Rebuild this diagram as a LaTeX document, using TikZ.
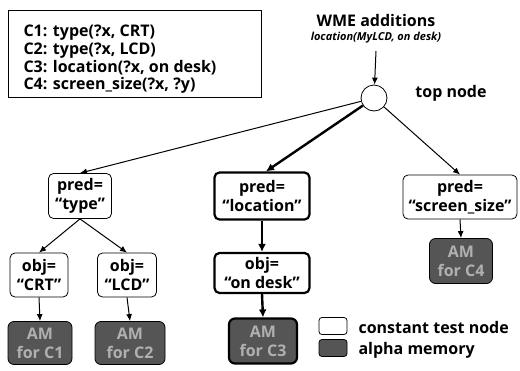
\documentclass[tikz,border=0pt]{standalone}
\usepackage{fontspec}
\setmainfont{Open Sans}
\usetikzlibrary{arrows.meta}
\definecolor{amgray}{HTML}{555555}
\definecolor{amtext}{HTML}{B0B0B0}
\begin{document}
\begin{tikzpicture}[x=1pt,y=-1pt,
  txt/.style={font=\bfseries\fontsize{16}{19}\selectfont},
  testbox/.style={draw, rounded corners=5pt, fill=white, align=center, inner sep=1pt, line width=0.8pt, txt},
  thicktest/.style={testbox, line width=2.2pt},
  ambox/.style={draw, rounded corners=6pt, fill=amgray, text=amtext, align=center, inner sep=1pt, line width=0.8pt, txt},
  thickam/.style={ambox, line width=2.2pt},
  arr/.style={-{Latex[length=7pt,width=6pt]}, line width=1pt},
  thickarr/.style={-{Latex[length=8pt,width=8pt]}, line width=2.4pt}]
\useasboundingbox (0,0) rectangle (520,370);
% conditions box
\node[draw, line width=0.8pt, minimum width=253pt, minimum height=87pt, anchor=north west, inner sep=0pt] (condbox) at (8,10) {};
\node[anchor=west, align=left, font=\bfseries\fontsize{16}{17.6}\selectfont] (conds) at (20,59.5)
  {C1: type(?x, CRT)\\C2: type(?x, LCD)\\C3: location(?x, on desk)\\C4: screen\_size(?x, ?y)};
% WME
\node[txt] (wme) at (376,20) {WME additions};
\node[font=\bfseries\itshape\fontsize{11}{12}\selectfont] (wmesub) at (376,38) {location(MyLCD, on desk)};
\node[draw, circle, minimum size=26pt, line width=0.8pt, inner sep=0pt] (top) at (374,98) {};
\node[txt] (toplbl) at (451,93) {top node};
\draw[arr] ([yshift=-4pt]wmesub.south) -- (top);
% level 1
\node[testbox, minimum width=63pt, minimum height=45pt] (ptype) at (80,196) {pred=\\“type”};
\node[thicktest, minimum width=95pt, minimum height=47pt] (ploc) at (262,196) {pred=\\“location”};
\node[testbox, minimum width=114pt, minimum height=44pt] (pscr) at (460,197) {pred=\\“screen\_size”};
% level 2
\node[testbox, minimum width=58pt, minimum height=44pt] (ocrt) at (39,275) {obj=\\“CRT”};
\node[testbox, minimum width=59pt, minimum height=44pt] (olcd) at (127,275) {obj=\\“LCD”};
\node[thicktest, minimum width=95pt, minimum height=40pt] (odesk) at (262,273) {obj=\\“on desk”};
% alpha memories
\node[ambox, minimum width=64pt, minimum height=43pt] (am1) at (40,343) {AM\\for C1};
\node[ambox, minimum width=70pt, minimum height=43pt] (am2) at (130,343) {AM\\for C2};
\node[thickam, minimum width=68pt, minimum height=45pt] (am3) at (263,341) {AM\\for C3};
\node[ambox, minimum width=63pt, minimum height=45pt] (am4) at (461,261) {AM\\for C4};
% legend
\node[draw, rounded corners=3pt, line width=0.8pt, minimum width=28pt, minimum height=17pt, inner sep=0pt] (legt) at (333,326) {};
\node[draw, rounded corners=3pt, fill=amgray, line width=0.8pt, minimum width=28pt, minimum height=17pt, inner sep=0pt] (lega) at (333,348) {};
\node[txt, anchor=west] (legtl) at (355,327) {constant test node};
\node[txt, anchor=west] (legal) at (355,350) {alpha memory};
% edges
\draw[arr] (top) -- (ptype.north);
\draw[thickarr] (top) -- ([xshift=4pt]ploc.north);
\draw[arr] (top) -- (pscr.north);
\draw[arr] (ptype.south) -- (ocrt.north);
\draw[arr] (ptype.south) -- (olcd.north);
\draw[thickarr] (ploc.south) -- (odesk.north);
\draw[arr] (pscr.south) -- (am4.north);
\draw[arr] (ocrt.south) -- (am1.north);
\draw[arr] (olcd.south) -- (am2.north);
\draw[thickarr] (odesk.south) -- (am3.north);
\end{tikzpicture}
\end{document}
